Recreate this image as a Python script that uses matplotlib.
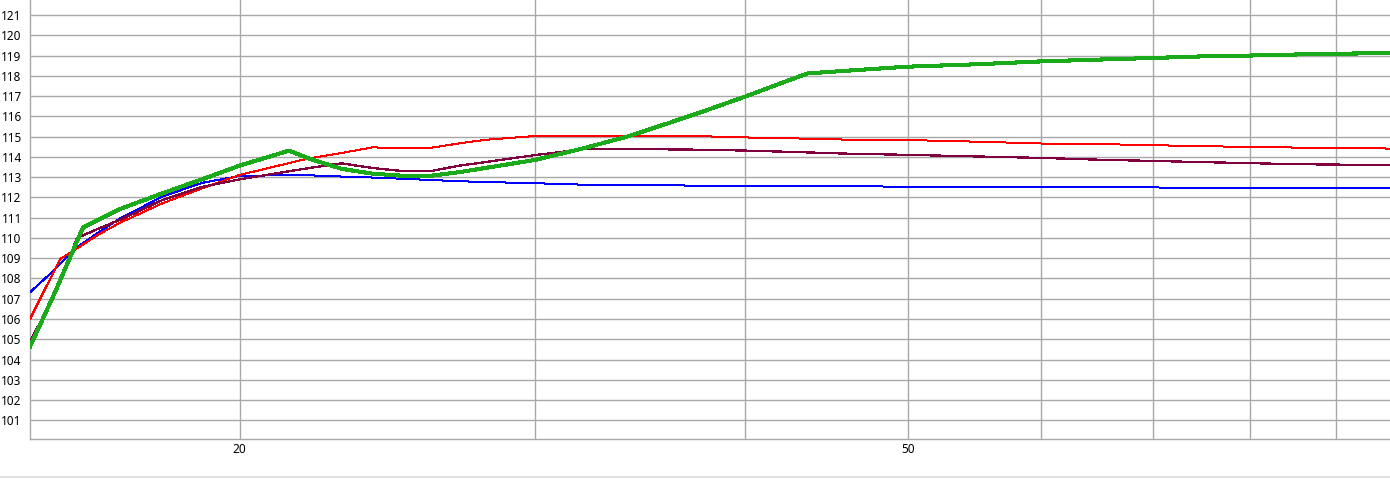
import matplotlib
matplotlib.use("Agg")
import matplotlib.pyplot as plt
from matplotlib.lines import Line2D

# ---- data ----
freq = [15, 15.5, 16, 16.5, 17, 18, 19, 20, 21, 22, 23, 24, 25, 26, 27, 28,
        30, 32, 34, 36, 38, 40, 42, 43.6, 46, 50, 55, 60, 65, 70, 75, 80, 85, 90, 97]

green_x = [15, 15.5, 16.13, 17, 18, 19, 20, 21, 21.4, 22, 23, 24, 25, 26, 27, 28,
           30, 32, 34, 36, 38, 40, 42, 43.6, 46, 50, 55, 60, 65, 70, 75, 80, 85, 90, 97]
green_y = [104.64, 107.2, 110.51, 111.45, 112.21, 112.9, 113.57, 114.1, 114.31, 113.91,
           113.41, 113.17, 113.07, 113.07, 113.24, 113.45, 113.85, 114.41, 114.99, 115.66,
           116.32, 116.97, 117.63, 118.12, 118.25, 118.45, 118.57, 118.71, 118.8, 118.88,
           118.96, 119.0, 119.05, 119.09, 119.12]

red_x = [15, 15.63, 15.8, 16.06, 16.5, 17, 18, 19, 20, 21, 22, 23, 24, 25, 26, 27, 28,
         30, 32, 34, 36, 38, 40, 42, 43.6, 46, 50, 55, 60, 65, 70, 75, 80, 85, 90, 97]
red_y = [106.0, 108.95, 109.2, 109.57, 110.2, 110.78, 111.72, 112.45, 113.11, 113.53,
         113.93, 114.19, 114.47, 114.42, 114.45, 114.66, 114.84, 115.03, 115.05, 115.05,
         115.04, 115.01, 114.96, 114.92, 114.9, 114.85, 114.83, 114.75, 114.66, 114.63,
         114.58, 114.52, 114.5, 114.46, 114.44, 114.41]

purple_x = [15, 15.5, 16.0, 16.5, 17, 18, 19, 20, 21, 22, 23, 24, 25, 26, 27, 28,
            30, 32, 34, 36, 38, 40, 42, 43.6, 46, 50, 55, 60, 65, 70, 75, 80, 85, 90, 97]
purple_y = [104.9, 107.1, 110.0, 110.48, 110.92, 111.88, 112.52, 112.89, 113.18, 113.45,
            113.68, 113.45, 113.3, 113.3, 113.56, 113.74, 114.09, 114.37, 114.37, 114.37,
            114.35, 114.31, 114.26, 114.22, 114.16, 114.1, 114.02, 113.95, 113.86, 113.8,
            113.74, 113.69, 113.64, 113.62, 113.58]

blue_y = [107.32, 108.4, 109.55, 110.3, 111.0, 112.05, 112.72, 113.06, 113.09, 113.09,
          113.03, 112.98, 112.92, 112.86, 112.8, 112.76, 112.7, 112.63, 112.6, 112.6,
          112.57, 112.55, 112.55, 112.55, 112.55, 112.53, 112.5, 112.5, 112.49, 112.49,
          112.48, 112.48, 112.48, 112.48, 112.48]

x_ticks = [20, 30, 40, 50, 60, 70, 80, 90]
x_tick_labels = ["20", "", "", "50", "", "", "", ""]
y_ticks = list(range(101, 122))
y_tick_labels = [str(v) for v in y_ticks]

# ---- figure ----
plt.rcParams['font.family'] = ['Noto Sans', 'DejaVu Sans']
fig = plt.figure(figsize=(13.9, 4.79), dpi=100)
ax = fig.add_axes([30 / 1390, 40 / 479, 1360 / 1390, 439 / 479])

ax.set_xscale('log')
ax.set_xlim(15.0, 96.9)
ax.set_ylim(100.08, 121.74)

grid_c = '#a8a8a8'
ax.set_xticks(x_ticks)
ax.set_xticklabels(x_tick_labels)
ax.xaxis.set_minor_locator(matplotlib.ticker.NullLocator())
ax.set_yticks(y_ticks)
ax.set_yticklabels(y_tick_labels)
ax.tick_params(axis='both', length=0, labelsize=8.5, colors='#000000')
ax.tick_params(axis='y', pad=6)
ax.tick_params(axis='x', pad=3)
ax.grid(True, color=grid_c, linewidth=1.0, zorder=0)
for s in ['top', 'right']:
    ax.spines[s].set_visible(False)
for s in ['left', 'bottom']:
    ax.spines[s].set_color(grid_c)
    ax.spines[s].set_linewidth(1.0)

ax.plot(freq, blue_y, color='#0000ff', linewidth=0.72, antialiased=False, zorder=3)
ax.plot(red_x, red_y, color='#ff0000', linewidth=0.72, antialiased=False, zorder=3)
ax.plot(purple_x, purple_y, color='#800040', linewidth=0.9, antialiased=False, zorder=3)
ax.plot(green_x, green_y, color='#1aaa1a', linewidth=2.2, antialiased=False, zorder=4)

fig.add_artist(Line2D([0, 1], [2 / 479, 2 / 479], color='#dcdcdc', linewidth=1.2,
                      transform=fig.transFigure))

fig.savefig('out.png', dpi=100, facecolor='white')
